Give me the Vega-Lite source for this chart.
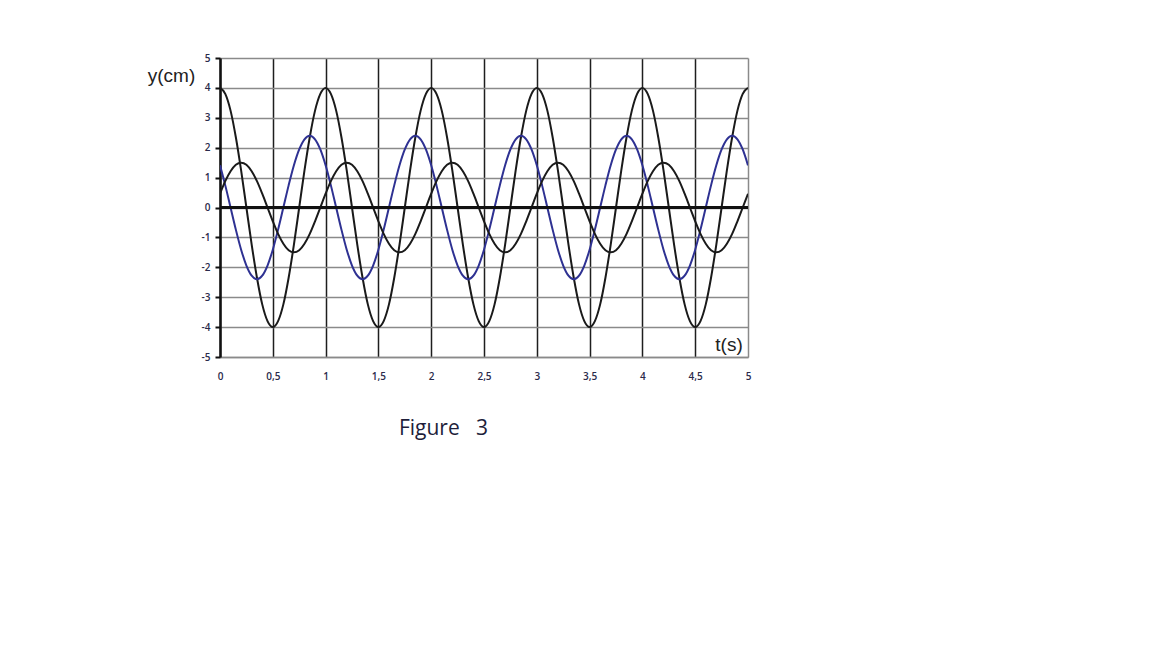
{
  "$schema": "https://vega.github.io/schema/vega-lite/v6.json",
  "width": 528,
  "height": 299,
  "autosize": {"type": "none"},
  "padding": {"left": 220, "top": 58, "right": 404, "bottom": 291},
  "background": "white",
  "config": {"view": {"stroke": null}},
  "datasets": {
    "curves": [
      {"t":0,"a":4,"b":1.41,"c":0.46},{"t":0.05,"a":3.8,"b":0.74,"c":0.88},{"t":0.1,"a":3.24,"b":0,"c":1.21},{"t":0.15,"a":2.35,"b":-0.74,"c":1.43},{"t":0.2,"a":1.24,"b":-1.41,"c":1.5},{"t":0.25,"a":0,"b":-1.94,"c":1.43},{"t":0.3,"a":-1.24,"b":-2.28,"c":1.21},{"t":0.35,"a":-2.35,"b":-2.4,"c":0.88},{"t":0.4,"a":-3.24,"b":-2.28,"c":0.46},{"t":0.45,"a":-3.8,"b":-1.94,"c":0},
      {"t":0.5,"a":-4,"b":-1.41,"c":-0.46},{"t":0.55,"a":-3.8,"b":-0.74,"c":-0.88},{"t":0.6,"a":-3.24,"b":0,"c":-1.21},{"t":0.65,"a":-2.35,"b":0.74,"c":-1.43},{"t":0.7,"a":-1.24,"b":1.41,"c":-1.5},{"t":0.75,"a":0,"b":1.94,"c":-1.43},{"t":0.8,"a":1.24,"b":2.28,"c":-1.21},{"t":0.85,"a":2.35,"b":2.4,"c":-0.88},{"t":0.9,"a":3.24,"b":2.28,"c":-0.46},{"t":0.95,"a":3.8,"b":1.94,"c":0},
      {"t":1,"a":4,"b":1.41,"c":0.46},{"t":1.05,"a":3.8,"b":0.74,"c":0.88},{"t":1.1,"a":3.24,"b":0,"c":1.21},{"t":1.15,"a":2.35,"b":-0.74,"c":1.43},{"t":1.2,"a":1.24,"b":-1.41,"c":1.5},{"t":1.25,"a":0,"b":-1.94,"c":1.43},{"t":1.3,"a":-1.24,"b":-2.28,"c":1.21},{"t":1.35,"a":-2.35,"b":-2.4,"c":0.88},{"t":1.4,"a":-3.24,"b":-2.28,"c":0.46},{"t":1.45,"a":-3.8,"b":-1.94,"c":0},
      {"t":1.5,"a":-4,"b":-1.41,"c":-0.46},{"t":1.55,"a":-3.8,"b":-0.74,"c":-0.88},{"t":1.6,"a":-3.24,"b":0,"c":-1.21},{"t":1.65,"a":-2.35,"b":0.74,"c":-1.43},{"t":1.7,"a":-1.24,"b":1.41,"c":-1.5},{"t":1.75,"a":0,"b":1.94,"c":-1.43},{"t":1.8,"a":1.24,"b":2.28,"c":-1.21},{"t":1.85,"a":2.35,"b":2.4,"c":-0.88},{"t":1.9,"a":3.24,"b":2.28,"c":-0.46},{"t":1.95,"a":3.8,"b":1.94,"c":0},
      {"t":2,"a":4,"b":1.41,"c":0.46},{"t":2.05,"a":3.8,"b":0.74,"c":0.88},{"t":2.1,"a":3.24,"b":0,"c":1.21},{"t":2.15,"a":2.35,"b":-0.74,"c":1.43},{"t":2.2,"a":1.24,"b":-1.41,"c":1.5},{"t":2.25,"a":0,"b":-1.94,"c":1.43},{"t":2.3,"a":-1.24,"b":-2.28,"c":1.21},{"t":2.35,"a":-2.35,"b":-2.4,"c":0.88},{"t":2.4,"a":-3.24,"b":-2.28,"c":0.46},{"t":2.45,"a":-3.8,"b":-1.94,"c":0},
      {"t":2.5,"a":-4,"b":-1.41,"c":-0.46},{"t":2.55,"a":-3.8,"b":-0.74,"c":-0.88},{"t":2.6,"a":-3.24,"b":0,"c":-1.21},{"t":2.65,"a":-2.35,"b":0.74,"c":-1.43},{"t":2.7,"a":-1.24,"b":1.41,"c":-1.5},{"t":2.75,"a":0,"b":1.94,"c":-1.43},{"t":2.8,"a":1.24,"b":2.28,"c":-1.21},{"t":2.85,"a":2.35,"b":2.4,"c":-0.88},{"t":2.9,"a":3.24,"b":2.28,"c":-0.46},{"t":2.95,"a":3.8,"b":1.94,"c":0},
      {"t":3,"a":4,"b":1.41,"c":0.46},{"t":3.05,"a":3.8,"b":0.74,"c":0.88},{"t":3.1,"a":3.24,"b":0,"c":1.21},{"t":3.15,"a":2.35,"b":-0.74,"c":1.43},{"t":3.2,"a":1.24,"b":-1.41,"c":1.5},{"t":3.25,"a":0,"b":-1.94,"c":1.43},{"t":3.3,"a":-1.24,"b":-2.28,"c":1.21},{"t":3.35,"a":-2.35,"b":-2.4,"c":0.88},{"t":3.4,"a":-3.24,"b":-2.28,"c":0.46},{"t":3.45,"a":-3.8,"b":-1.94,"c":0},
      {"t":3.5,"a":-4,"b":-1.41,"c":-0.46},{"t":3.55,"a":-3.8,"b":-0.74,"c":-0.88},{"t":3.6,"a":-3.24,"b":0,"c":-1.21},{"t":3.65,"a":-2.35,"b":0.74,"c":-1.43},{"t":3.7,"a":-1.24,"b":1.41,"c":-1.5},{"t":3.75,"a":0,"b":1.94,"c":-1.43},{"t":3.8,"a":1.24,"b":2.28,"c":-1.21},{"t":3.85,"a":2.35,"b":2.4,"c":-0.88},{"t":3.9,"a":3.24,"b":2.28,"c":-0.46},{"t":3.95,"a":3.8,"b":1.94,"c":0},
      {"t":4,"a":4,"b":1.41,"c":0.46},{"t":4.05,"a":3.8,"b":0.74,"c":0.88},{"t":4.1,"a":3.24,"b":0,"c":1.21},{"t":4.15,"a":2.35,"b":-0.74,"c":1.43},{"t":4.2,"a":1.24,"b":-1.41,"c":1.5},{"t":4.25,"a":0,"b":-1.94,"c":1.43},{"t":4.3,"a":-1.24,"b":-2.28,"c":1.21},{"t":4.35,"a":-2.35,"b":-2.4,"c":0.88},{"t":4.4,"a":-3.24,"b":-2.28,"c":0.46},{"t":4.45,"a":-3.8,"b":-1.94,"c":0},
      {"t":4.5,"a":-4,"b":-1.41,"c":-0.46},{"t":4.55,"a":-3.8,"b":-0.74,"c":-0.88},{"t":4.6,"a":-3.24,"b":0,"c":-1.21},{"t":4.65,"a":-2.35,"b":0.74,"c":-1.43},{"t":4.7,"a":-1.24,"b":1.41,"c":-1.5},{"t":4.75,"a":0,"b":1.94,"c":-1.43},{"t":4.8,"a":1.24,"b":2.28,"c":-1.21},{"t":4.85,"a":2.35,"b":2.4,"c":-0.88},{"t":4.9,"a":3.24,"b":2.28,"c":-0.46},{"t":4.95,"a":3.8,"b":1.94,"c":0},
      {"t":5,"a":4,"b":1.41,"c":0.46}
    ],
    "labels": [{"t":4.82,"y":-4.6,"label":"t(s)"}]
  },
  "layer": [
    {
      "data": {"name": "curves"},
      "transform": [{"fold": ["a", "b", "c"], "as": ["s", "y"]}],
      "mark": {"type": "line", "strokeWidth": 2, "interpolate": "monotone", "clip": true},
      "encoding": {
        "x": {
          "field": "t", "type": "quantitative",
          "scale": {"domain": [0, 5], "nice": false},
          "axis": {
            "values": [0, 0.5, 1, 1.5, 2, 2.5, 3, 3.5, 4, 4.5, 5],
            "tickCount": 20,
            "labelExpr": "replace(toString(datum.value), '.', ',')",
            "labelOverlap": false,
            "grid": true,
            "gridColor": {"condition": {"test": "datum.value == 5", "value": "#8a8a8a"}, "value": "#1e1e1e"},
            "gridWidth": 1.5,
            "gridOpacity": 1,
            "domain": true, "domainColor": "#8a8a8a", "domainWidth": 1.5,
            "ticks": false,
            "labelPadding": 14,
            "labelFont": "Open Sans", "labelFontSize": 10, "labelFontWeight": 600, "labelColor": "#2a2a4a",
            "labelFlush": false,
            "title": "Figure\u00a0\u00a0\u00a03",
            "titleX": 223, "titleY": 71, "titleAlign": "center", "titleBaseline": "middle",
            "titleFont": "Open Sans", "titleFontSize": 21, "titleFontWeight": "normal", "titleColor": "#1e1e3a"
          }
        },
        "y": {
          "field": "y", "type": "quantitative",
          "scale": {"domain": [-5, 5], "nice": false},
          "axis": {
            "values": [-5, -4, -3, -2, -1, 0, 1, 2, 3, 4, 5],
            "tickCount": 20,
            "labelExpr": "toString(datum.value)",
            "labelOverlap": false,
            "grid": true, "gridColor": "#8a8a8a", "gridWidth": 1.5, "gridOpacity": 1,
            "domain": true, "domainColor": "#111111", "domainWidth": 2.5,
            "ticks": true, "tickColor": "#111111", "tickSize": 5, "tickWidth": 2,
            "labelPadding": 5,
            "labelFont": "Open Sans", "labelFontSize": 10, "labelFontWeight": 600, "labelColor": "#2a2a4a",
            "labelFlush": false,
            "title": "y(cm)",
            "titleAngle": 0, "titleX": -49, "titleY": 17, "titleAlign": "center", "titleBaseline": "middle",
            "titleFont": "Liberation Sans", "titleFontSize": 19, "titleFontWeight": "normal", "titleColor": "#222222"
          }
        },
        "color": {
          "field": "s", "type": "nominal",
          "scale": {"domain": ["a", "b", "c"], "range": ["#1a1a1a", "#2e3192", "#1a1a1a"]},
          "legend": null
        }
      }
    },
    {
      "data": {"name": "curves"},
      "mark": {"type": "rule", "color": "#111111", "strokeWidth": 2.5},
      "encoding": {
        "y": {"datum": 0, "type": "quantitative"}
      }
    },
    {
      "data": {"name": "labels"},
      "mark": {"type": "text", "font": "Liberation Sans", "fontSize": 19, "color": "#222222", "align": "center", "baseline": "middle"},
      "encoding": {
        "x": {"field": "t", "type": "quantitative"},
        "y": {"field": "y", "type": "quantitative"},
        "text": {"field": "label"}
      }
    }
  ]
}
